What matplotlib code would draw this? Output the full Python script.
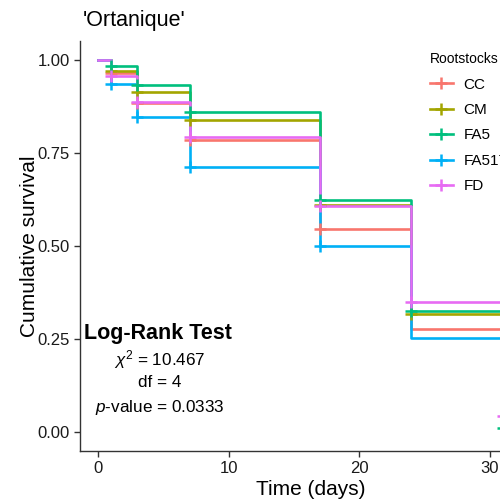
import matplotlib.pyplot as plt
import numpy as np

plt.rcParams['font.family'] = ['Liberation Sans', 'DejaVu Sans']
plt.rcParams['mathtext.fontset'] = 'custom'
plt.rcParams['mathtext.rm'] = 'Liberation Sans'
plt.rcParams['mathtext.it'] = 'Liberation Sans:italic'

groups = ['CC', 'CM', 'FA5', 'FA517', 'FD']
colors = ['#F8766D', '#A3A500', '#00BF7D', '#00B0F6', '#E76BF3']

times = [0, 1, 3, 7, 17, 24, 31]
surv = {
    'CC':    [1.0, 0.966, 0.884, 0.784, 0.546, 0.278, 0.0],
    'CM':    [1.0, 0.971, 0.914, 0.839, 0.609, 0.318, 0.0],
    'FA5':   [1.0, 0.984, 0.933, 0.860, 0.624, 0.325, 0.011],
    'FA517': [1.0, 0.935, 0.847, 0.713, 0.500, 0.252, 0.0],
    'FD':    [1.0, 0.957, 0.888, 0.792, 0.608, 0.349, 0.043],
}
# times with a censoring mark for each group
censor = {
    'CC':    [1, 3, 7, 17],
    'CM':    [1, 3, 7, 17, 24],
    'FA5':   [1, 3, 7, 17, 24, 31],
    'FA517': [1, 3, 7, 17],
    'FD':    [1, 3, 7, 17, 24, 31],
}

fig = plt.figure(figsize=(5, 5.04), dpi=100)
ax = fig.add_axes([0.16, 0.106, 0.924, 0.812])

for g, c in zip(groups, colors):
    t = times + [34]
    s = surv[g] + [surv[g][-1]]
    ax.step(t, s, where='post', color=c, lw=1.9, zorder=2)
    ct = censor[g]
    cs = [surv[g][times.index(x)] for x in ct]
    ax.plot(ct, cs, ls='none', marker='+', ms=9, mew=1.8, color=c, zorder=3)

ax.set_xlim(-1.4, 34)
ax.set_ylim(-0.05, 1.05)
ax.set_xticks([0, 10, 20, 30])
ax.set_yticks([0, 0.25, 0.5, 0.75, 1.0])
ax.set_yticklabels(['0.00', '0.25', '0.50', '0.75', '1.00'])
ax.tick_params(labelsize=12, length=4, width=1, color='#333333', labelcolor='#1a1a1a')
for side in ['top', 'right']:
    ax.spines[side].set_visible(False)
for side in ['left', 'bottom']:
    ax.spines[side].set_color('#333333')
    ax.spines[side].set_linewidth(1)

ax.set_xlabel('Time (days)', fontsize=15, labelpad=3)
ax.set_ylabel('Cumulative survival', fontsize=15, labelpad=-1)
fig.text(0.166, 0.96, "'Ortanique'", fontsize=15.5, ha='left', va='center')

ax.text(4.6, 0.266, 'Log-Rank Test', fontsize=15.5, fontweight='bold', ha='center', va='center')
ax.text(4.7, 0.195, r'$\chi^2$ = 10.467', fontsize=12.3, ha='center', va='center')
ax.text(4.7, 0.132, 'df = 4', fontsize=12.3, ha='center', va='center')
ax.text(4.7, 0.067, r'$p$-value = 0.0333', fontsize=12.3, ha='center', va='center')

handles = [plt.Line2D([], [], color=c, lw=1.9, marker='+', ms=9, mew=1.8) for c in colors]
leg = fig.legend(handles, groups, title='Rootstocks', loc='upper left',
                 bbox_to_anchor=(0.832, 0.924), frameon=False, fontsize=11,
                 title_fontsize=10, handlelength=1.5, handletextpad=0.7,
                 labelspacing=0.75)
leg._legend_box.align = 'left'

fig.savefig('out.png', dpi=100)
